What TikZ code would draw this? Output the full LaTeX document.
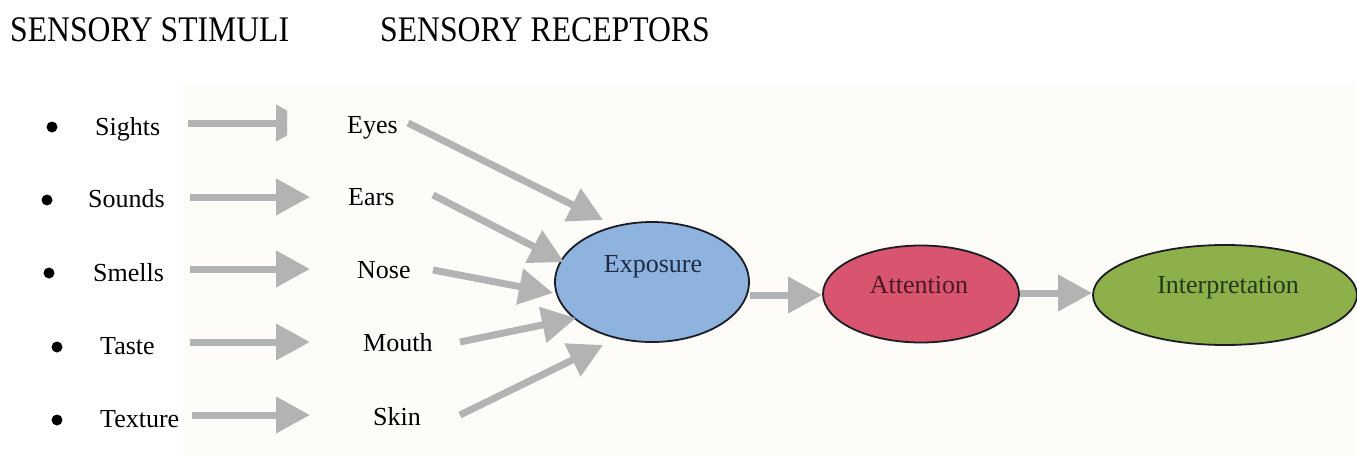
\documentclass[tikz,border=0pt]{standalone}
\usepackage{fontspec}
\setmainfont{Liberation Serif}
\newfontfamily\headfont{Liberation Serif}[FakeStretch=0.88]
\usetikzlibrary{arrows.meta,shapes.geometric}
\definecolor{arrowgray}{HTML}{B3B3B3}
\definecolor{paper}{HTML}{FDFCF9}
\definecolor{expfill}{HTML}{8FB3DF}
\definecolor{attfill}{HTML}{D9546F}
\definecolor{intfill}{HTML}{8EB04B}
\definecolor{rim}{HTML}{1C1C24}
\definecolor{exptext}{HTML}{1F2A44}
\definecolor{atttext}{HTML}{4A1A22}
\definecolor{inttext}{HTML}{1F3A1A}
\begin{document}
\begin{tikzpicture}[x=1pt,y=-1pt,
  heading/.style={font=\headfont\fontsize{36}{40}\selectfont, anchor=base west, inner sep=0},
  lbl/.style={font=\fontsize{26}{30}\selectfont, anchor=base west, inner sep=0},
  stagetext/.style={font=\fontsize{26}{30}\selectfont, anchor=base, inner sep=0},
  bullet/.style={circle, fill=black, inner sep=0, minimum size=11},
  flow/.style={draw=arrowgray, line width=7, -{Triangle[length=34pt,width=35pt]}},
  stage/.style={ellipse, draw=rim, line width=1.8, inner sep=0}]

% canvas
\useasboundingbox (0,0) rectangle (1357,455);
\fill[white] (0,0) rectangle (1357,455);
\fill[paper] (183,85) rectangle (1357,455);

% column headings
\node[heading] (hstim) at (10,41) {SENSORY STIMULI};
\node[heading] (hrec) at (380,41) {SENSORY RECEPTORS};

% stimuli list
\node[bullet] (b1) at (52,127) {};
\node[bullet] (b2) at (47,200) {};
\node[bullet] (b3) at (49,273) {};
\node[bullet] (b4) at (57,347) {};
\node[bullet] (b5) at (57,420) {};
\node[lbl] (sights) at (95,135) {Sights};
\node[lbl] (sounds) at (88,207) {Sounds};
\node[lbl] (smells) at (93,281) {Smells};
\node[lbl] (taste) at (100,354) {Taste};
\node[lbl] (texture) at (100,427) {Texture};

% receptors
\node[lbl] (eyes) at (347,133) {Eyes};
\node[lbl] (ears) at (348,205) {Ears};
\node[lbl] (nose) at (357,278) {Nose};
\node[lbl] (mouth) at (363,351) {Mouth};
\node[lbl] (skin) at (373,425) {Skin};

% stages
\node[stage, fill=expfill, minimum width=194, minimum height=120] (exposure) at (652,282) {};
\node[stage, fill=attfill, minimum width=196, minimum height=97] (attention) at (921,294) {};
\node[stage, fill=intfill, minimum width=264, minimum height=100] (interp) at (1225,295) {};
\node[stagetext, text=exptext] (exposureT) at (653,272) {Exposure};
\node[stagetext, text=atttext] (attentionT) at (919,293) {Attention};
\node[stagetext, text=inttext] (interpT) at (1228,293) {Interpretation};

% arrow ends, stimuli to receptors
\coordinate (s1) at (188,123); \coordinate (r1) at (310,123);
\coordinate (s2) at (190,197); \coordinate (r2) at (310,197);
\coordinate (s3) at (190,269); \coordinate (r3) at (310,269);
\coordinate (s4) at (190,342); \coordinate (r4) at (310,342);
\coordinate (s5) at (192,415); \coordinate (r5) at (310,415);

% arrow ends, receptors to exposure
\coordinate (e1) at (408,123); \coordinate (x1) at (603,220);
\coordinate (e2) at (433,195); \coordinate (x2) at (564,262);
\coordinate (e3) at (433,270); \coordinate (x3) at (553,293);
\coordinate (e4) at (460,342); \coordinate (x4) at (576,318);
\coordinate (e5) at (460,415); \coordinate (x5) at (603,345);

% the first arrow has a cut-off head
\begin{scope}
  \clip (0,0) rectangle (287,455);
  \draw[flow] (s1) -- (r1);
\end{scope}
\draw[flow] (s2) -- (r2);
\draw[flow] (s3) -- (r3);
\draw[flow] (s4) -- (r4);
\draw[flow] (s5) -- (r5);

\draw[flow] (e1) -- (x1);
\draw[flow] (e2) -- (x2);
\draw[flow] (e3) -- (x3);
\draw[flow] (e4) -- (x4);
\draw[flow] (e5) -- (x5);

% stage to stage
\draw[flow] (exposure.east |- 0,295) -- (attention.west |- 0,295);
\draw[flow] (attention.east |- 0,293) -- (interp.west |- 0,293);
\end{tikzpicture}
\end{document}
